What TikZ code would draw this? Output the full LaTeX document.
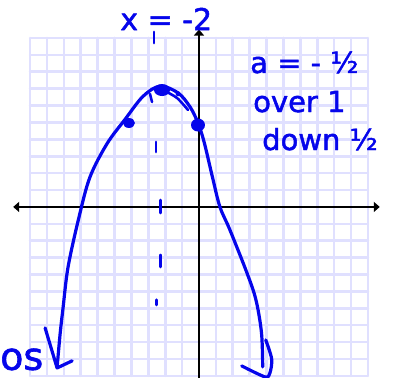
\documentclass[tikz,border=0pt]{standalone}
\usepackage{fontspec}
\usetikzlibrary{arrows.meta}
\newfontfamily\handfont{DejaVu Sans}[FakeBold=1.6]
\definecolor{handblue}{RGB}{5,5,235}
\definecolor{gridlav}{RGB}{224,224,255}
\tikzset{sketch/.style={x=16.9pt,y=16.9pt,line cap=round,line join=round},
  gridline/.style={gridlav,line width=2.6pt},
  axisline/.style={line width=2.8pt},
  axtip/.tip={Triangle[length=6pt,width=10pt]},
  pen/.style={handblue,line width=3.2pt},
  handtext/.style={handblue,inner sep=0pt,anchor=base west,font=\handfont\fontsize{29}{32}\selectfont}}

\begin{document}
\begin{tikzpicture}[sketch]
    \useasboundingbox (-11.78,-10.12) rectangle (11.72,12.25);
    \fill[white] (-11.78,-10.12) rectangle (11.72,12.25);
    \draw[gridline,step={(1,1)}] (-10,-10) grid (10,10);
    \draw[axisline,axtip-axtip] (-11.0,0) -- (10.7,0);
    \draw[axisline,-axtip] (0,-10.3) -- (0,10.5);
    % axis of symmetry, hand dashes
    \foreach \x/\a/\b in {-2.66/10.36/9.70, -2.54/3.85/3.25, -2.27/0.41/-0.36, -2.27/-2.84/-3.55, -2.50/-5.50/-5.80}
      \draw[pen,line width=2.8pt] (\x,\a) -- (\x,\b);
    \draw[pen,line width=2.6pt] (-2.9,6.69) -- (-2.78,6.21);
    % the parabola
    \draw[pen] plot[smooth,tension=0.55] coordinates {(-8.40,-9.50) (-8.22,-7.5) (-8.05,-6.0) (-7.75,-3.55)
      (-7.10,-0.59) (-6.45,1.78) (-5.44,3.75) (-4.38,5.18) (-3.31,6.55) (-2.31,7.15) (-1.24,6.75)
      (-0.53,5.92) (-0.06,4.97) (0.30,3.85) (0.80,1.75) (1.24,0) (1.83,-1.36) (2.84,-3.91)
      (3.37,-5.50) (3.70,-7.46) (3.77,-9.47)};
    \draw[pen,line width=2.6pt] plot[smooth] coordinates {(-2.0,6.85) (-1.30,6.45) (-0.65,5.74)};
    \draw[pen] (-9.11,-7.16) -- (-8.40,-9.53) -- (-7.51,-9.11);   % left arrow
    \draw[pen] plot[smooth] coordinates {(3.95,-7.87) (4.30,-8.99) (4.20,-9.82) (3.91,-10.06) (2.53,-9.41)};
    % points
    \fill[handblue] (-2.19,6.92) ellipse (8pt and 6pt);
    \fill[handblue] (-4.15,4.97) ellipse (6pt and 5pt);
    \fill[handblue] (-0.06,4.85) ellipse (7pt and 6.5pt);
    \fill[handblue] (-1.24,6.7) circle (2.5pt);
    % labels
    \node[handtext,font=\handfont\fontsize{30}{32}\selectfont] (symlbl) at (-4.67,10.47) {x = -2};
    \node[handtext] (albl) at (3.02,7.93) {a = - ½};
    \node[handtext] (overlbl) at (3.20,5.62) {over 1};
    \node[handtext] (downlbl) at (3.73,3.37) {down ½};
    \node[handtext,font=\handfont\fontsize{38}{40}\selectfont] (oslbl) at (-11.78,-9.64) {os};
\end{tikzpicture}
\end{document}
